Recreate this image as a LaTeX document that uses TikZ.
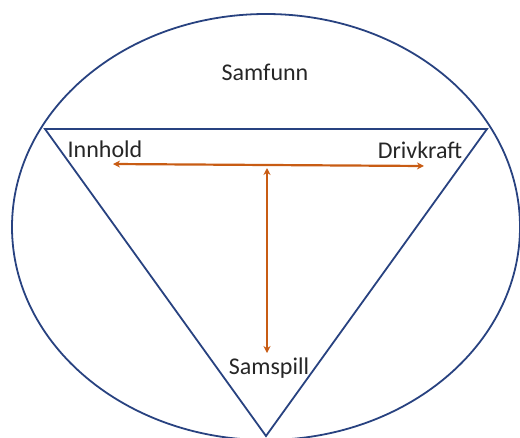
\documentclass[tikz,border=0pt]{standalone}
\definecolor{triBlue}{RGB}{40,66,128}
\definecolor{linkOrange}{RGB}{200,92,20}
\usepackage{tikz}
\usepackage{fontspec}
\setmainfont{Carlito}
\usetikzlibrary{arrows.meta,positioning,calc}

\begin{document}
\begin{tikzpicture}[
    x=1pt, y=-1pt,
    lbl/.style={inner sep=0pt, font=\fontsize{24}{28}\selectfont, text=black!85},
    frame/.style={draw=triBlue, line width=1.8pt},
    link/.style={{Stealth[length=7pt,width=7pt]}-{Stealth[length=7pt,width=7pt]},
                 linkOrange, line width=2.2pt}
  ]
  \useasboundingbox (0,0) rectangle (520,437);

  % outer ellipse and triangle
  \draw[frame] (266,227) ellipse [x radius=254, y radius=213];
  \coordinate (tl) at (45,129);
  \coordinate (tr) at (487,129);
  \coordinate (bt) at (266,436);
  \draw[frame, line join=miter] (tl) -- (tr) -- (bt) -- cycle;

  % labels
  \node[lbl] (samfunn)  at (265,72)  {Samfunn};
  \node[lbl] (innhold)  at (105,149) {Innhold};
  \node[lbl] (drivkraft) at (420,150) {Drivkraft};
  \node[lbl] (samspill) at (269,368) {Samspill};

  % connectors
  \coordinate (hl) at (113,164);
  \coordinate (hr) at (424,166);
  \coordinate (vt) at (267,168);
  \coordinate (vb) at (267,353);
  \draw[link] (hl) -- (hr);
  \draw[link] (vt) -- (vb);
\end{tikzpicture}
\end{document}
